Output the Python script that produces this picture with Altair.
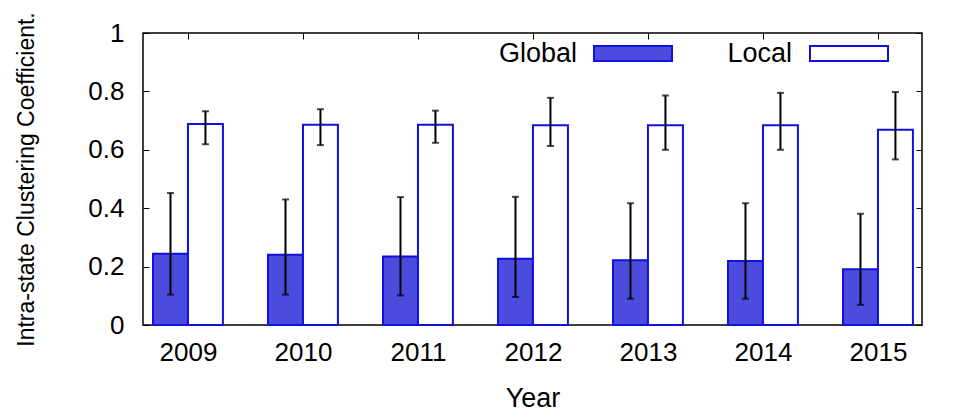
import altair as alt
import pandas as pd

years = ["2009", "2010", "2011", "2012", "2013", "2014", "2015"]
series = ["Global", "Local"]

global_mean = [0.244, 0.241, 0.235, 0.227, 0.222, 0.219, 0.191]
global_lo = [0.104, 0.104, 0.101, 0.096, 0.090, 0.090, 0.069]
global_hi = [0.452, 0.430, 0.438, 0.439, 0.417, 0.417, 0.381]

local_mean = [0.688, 0.686, 0.686, 0.684, 0.684, 0.684, 0.669]
local_lo = [0.619, 0.616, 0.624, 0.613, 0.600, 0.600, 0.567]
local_hi = [0.732, 0.739, 0.734, 0.778, 0.786, 0.795, 0.798]

y_ticks = [0, 0.2, 0.4, 0.6, 0.8, 1]

rows = []
for i, yr in enumerate(years):
    rows.append({"year": yr, "idx": i, "series": "Global", "value": global_mean[i],
                 "lo": global_lo[i], "hi": global_hi[i]})
    rows.append({"year": yr, "idx": i, "series": "Local", "value": local_mean[i],
                 "lo": local_lo[i], "hi": local_hi[i]})
df = pd.DataFrame(rows)

BLUE = "#1010e0"
HATCH = "#4b4bdd"
FONT = "Liberation Sans"
BW = 0.304  # bar width in group units

xscale = alt.Scale(domain=[-0.391, 6.383], nice=False, zero=False)
yscale = alt.Scale(domain=[0, 1], nice=False)

label_expr = "[" + ",".join(f"'{y}'" for y in years) + "][datum.value]"

base = alt.Chart(df).transform_calculate(
    xc=f"datum.idx + (datum.series == 'Global' ? -{BW/2} : {BW/2})",
    x1=f"datum.idx + (datum.series == 'Global' ? -{BW} : 0)",
    x2=f"datum.idx + (datum.series == 'Global' ? 0 : {BW})",
)

bars = base.mark_rect(stroke=BLUE, strokeWidth=2).encode(
    x=alt.X("x1:Q", scale=xscale,
            axis=alt.Axis(values=list(range(len(years))), labelExpr=label_expr,
                          title="Year", titleFontSize=27, titleFontWeight="normal",
                          titleBaseline="alphabetic", titleY=87,
                          labelFontSize=26, labelPadding=14, tickSize=6,
                          offset=-6, domain=False, grid=False, tickColor="black",
                          labelColor="black", titleColor="black")),
    x2="x2:Q",
    y=alt.Y("value:Q", scale=yscale,
            axis=alt.Axis(values=y_ticks, format="~g",
                          title="Intra-state Clustering Coefficient.",
                          titleFontSize=23, titleFontWeight="normal",
                          titleAngle=270, titleX=-123, titleY=146,
                          titleAlign="center", titleBaseline="middle",
                          labelFontSize=26, labelPadding=19, tickSize=6,
                          offset=-6, domain=False, grid=False, tickColor="black",
                          labelColor="black", titleColor="black")),
    y2=alt.datum(0),
    fill=alt.Fill("series:N", scale=alt.Scale(domain=series, range=[HATCH, "white"]),
                  legend=None),
)

err = base.mark_rule(color="black", strokeWidth=2).encode(
    x=alt.X("xc:Q", scale=xscale,
            axis=alt.Axis(values=list(range(len(years))), orient="top", labels=False,
                          title=None, tickSize=6, offset=-6, domain=False, grid=False,
                          tickColor="black")),
    y=alt.Y("lo:Q", scale=yscale,
            axis=alt.Axis(values=y_ticks, orient="right", labels=False, title=None,
                          tickSize=6, offset=-6, domain=False, grid=False,
                          tickColor="black")),
    y2="hi:Q",
)

cap_lo = base.mark_tick(color="black", thickness=2, size=7, orient="horizontal").encode(
    x=alt.X("xc:Q", scale=xscale, axis=None),
    y=alt.Y("lo:Q", scale=yscale, axis=None),
)
cap_hi = base.mark_tick(color="black", thickness=2, size=7, orient="horizontal").encode(
    x=alt.X("xc:Q", scale=xscale, axis=None),
    y=alt.Y("hi:Q", scale=yscale, axis=None),
)

leg_df = pd.DataFrame({"series": series})
leg = alt.Chart(leg_df)
leg_g_text = leg.transform_filter("datum.series == 'Global'").mark_text(
    align="right", baseline="middle", fontSize=27, font=FONT, color="black").encode(
    text="series:N", x=alt.value(434), y=alt.value(21))
leg_g_box = leg.transform_filter("datum.series == 'Global'").mark_rect(
    fill=HATCH, stroke=BLUE, strokeWidth=2).encode(
    x=alt.value(451), x2=alt.value(529), y=alt.value(13), y2=alt.value(28))
leg_l_text = leg.transform_filter("datum.series == 'Local'").mark_text(
    align="right", baseline="middle", fontSize=27, font=FONT, color="black").encode(
    text="series:N", x=alt.value(649), y=alt.value(21))
leg_l_box = leg.transform_filter("datum.series == 'Local'").mark_rect(
    fill="white", stroke=BLUE, strokeWidth=2).encode(
    x=alt.value(667), x2=alt.value(745), y=alt.value(13), y2=alt.value(28))

chart = alt.layer(
    bars, err, cap_lo, cap_hi, leg_g_text, leg_g_box, leg_l_text, leg_l_box
).resolve_axis(x="independent", y="independent").properties(
    width=779, height=292,
    padding={"left": 135, "top": 25, "right": 30, "bottom": 92},
    autosize=alt.AutoSizeParams(type="none"),
).configure(font=FONT).configure_view(stroke="black", strokeWidth=1.5)

chart.save("out.html", embed_options={"renderer": "svg", "actions": False})
